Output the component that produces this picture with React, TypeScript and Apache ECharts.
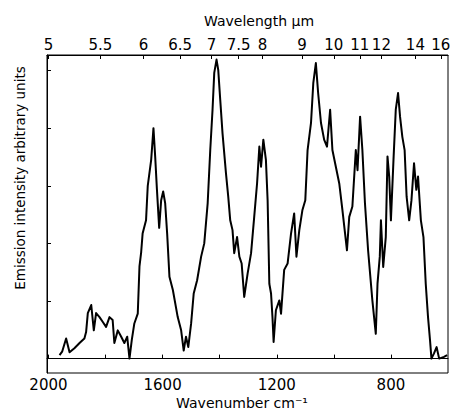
import React, { useEffect, useRef } from "react";
import * as echarts from "echarts";

// Emission spectrum (wavenumber in cm^-1, intensity in arbitrary units)
const wavenumbers = [
  1961, 1952, 1938, 1926, 1909, 1891, 1874, 1868, 1862, 1850, 1841, 1833, 1821, 1810, 1798, 1786,
  1775, 1769, 1757, 1745, 1734, 1724, 1716, 1708, 1699, 1687, 1681, 1675, 1670, 1658, 1652, 1640,
  1632, 1626, 1620, 1612, 1605, 1598, 1591, 1584, 1576, 1564, 1547, 1535, 1526, 1518, 1510, 1500,
  1491, 1479, 1465, 1454, 1442, 1433, 1425, 1419, 1411, 1405, 1398, 1390, 1378, 1370, 1363, 1355,
  1349, 1339, 1331, 1323, 1314, 1302, 1290, 1279, 1269, 1261, 1255, 1247, 1238, 1232, 1226, 1220,
  1215, 1211, 1203, 1191, 1185, 1174, 1162, 1150, 1139, 1131, 1121, 1110, 1100, 1092, 1080, 1072,
  1063, 1055, 1045, 1034, 1024, 1013, 1005, 993, 981, 970, 954, 946, 935, 923, 917, 908,
  900, 891, 880, 865, 859, 853, 847, 839, 835, 827, 818, 812, 806, 800, 791, 783,
  775, 768, 760, 752, 745, 736, 728, 719, 711, 705, 695, 686, 678, 670, 663, 658,
  649, 640, 631, 614, 603,
];
const intensities = [
  0.06, 0.12, 0.35, 0.11, 0.18, 0.27, 0.35, 0.46, 0.79, 0.93, 0.49, 0.79, 0.72, 0.64, 0.55, 0.72,
  0.67, 0.27, 0.49, 0.38, 0.27, 0.38, 0.0, 0.32, 0.61, 0.78, 1.6, 1.85, 2.17, 2.4, 3.0, 3.45,
  4.0, 3.51, 2.95, 2.27, 2.75, 2.9, 2.7, 2.17, 1.42, 1.19, 0.72, 0.49, 0.14, 0.38, 0.2, 0.61,
  1.13, 1.36, 1.77, 2.0, 2.7, 3.62, 4.32, 4.96, 5.19, 5.01, 4.49, 3.91, 3.22, 2.81, 2.4, 2.23,
  1.83, 2.11, 1.77, 1.65, 1.07, 1.48, 1.83, 2.46, 3.04, 3.68, 3.33, 3.8, 3.45, 2.75, 1.3, 1.13,
  0.72, 0.29, 0.84, 1.01, 0.78, 1.54, 1.65, 2.17, 2.52, 1.77, 2.23, 2.58, 2.75, 3.62, 4.09, 4.78,
  5.13, 4.61, 4.09, 3.8, 3.68, 4.32, 3.62, 3.33, 3.04, 2.58, 1.88, 2.46, 2.64, 3.62, 3.27, 4.2,
  3.62, 2.7, 1.88, 1.01, 0.72, 0.43, 1.3, 1.77, 2.4, 1.59, 2.11, 3.51, 3.16, 2.4, 3.45, 4.32,
  4.61, 4.2, 3.85, 3.62, 2.81, 2.4, 2.75, 3.39, 2.93, 3.16, 2.4, 2.11, 1.3, 0.72, 0.32, 0.0,
  0.09, 0.2, 0.0, 0.03, 0.06,
];

const wavelengthTicks = [5, 5.5, 6, 6.5, 7, 7.5, 8, 9, 10, 11, 12, 14, 16];
const wavenumberTicks = [800, 1000, 1200, 1400, 1600, 1800, 2000];
const wavenumberLabels = [800, 1200, 1600, 2000];
const intensityTicks = [0, 1, 2, 3, 4, 5];

const FONT = "DejaVu Sans";

export default function App() {
  const ref = useRef<HTMLDivElement>(null);
  useEffect(() => {
    if (!ref.current) return;
    const chart = echarts.init(ref.current, undefined, { renderer: "svg" });
    const data = wavenumbers.map((w, i) => [w, intensities[i]]);
    const wlValues = wavelengthTicks.map((l) => 10000 / l);
    chart.setOption({
      animation: false,
      backgroundColor: "#fff",
      grid: {
        left: 47,
        right: 3,
        top: 55,
        bottom: 39,
        containLabel: false,
        outerBoundsMode: "none",
        show: true,
        borderColor: "#000",
        borderWidth: 1,
        backgroundColor: "transparent",
      },
      xAxis: [
        {
          type: "value",
          position: "bottom",
          min: 600,
          max: 2005,
          inverse: true,
          splitLine: { show: false },
          axisLine: { show: true, lineStyle: { color: "#000", width: 1 } },
          axisTick: {
            show: true,
            inside: true,
            length: 4,
            customValues: wavenumberTicks,
            lineStyle: { color: "#000" },
          },
          axisLabel: {
            show: true,
            customValues: wavenumberLabels,
            margin: 4,
            color: "#000",
            fontFamily: FONT,
            fontSize: 15,
            formatter: (v: number) => String(v),
          },
        },
        {
          type: "value",
          position: "top",
          min: 600,
          max: 2005,
          inverse: true,
          splitLine: { show: false },
          axisLine: { show: true, lineStyle: { color: "#000", width: 1 } },
          axisTick: {
            show: true,
            inside: true,
            length: 4,
            customValues: wlValues,
            lineStyle: { color: "#000" },
          },
          axisLabel: {
            show: true,
            customValues: wlValues,
            margin: 3,
            color: "#000",
            fontFamily: FONT,
            fontSize: 15,
            hideOverlap: false,
            formatter: (v: number) => String(Math.round((10000 / v) * 10) / 10),
          },
        },
      ],
      yAxis: {
        type: "value",
        min: -0.25,
        max: 5.27,
        splitLine: { show: false },
        axisLine: { show: true, lineStyle: { color: "#000", width: 1 } },
        axisTick: {
          show: true,
          inside: true,
          length: 4,
          customValues: intensityTicks,
          lineStyle: { color: "#000" },
        },
        axisLabel: { show: false },
      },
      graphic: [
        {
          type: "text",
          x: 259,
          y: 21,
          style: {
            text: "Wavelength μm",
            font: `14px "${FONT}"`,
            fill: "#000",
            textAlign: "center",
            textVerticalAlign: "middle",
          },
        },
        {
          type: "text",
          x: 242,
          y: 403,
          style: {
            text: "Wavenumber cm⁻¹",
            font: `14px "${FONT}"`,
            fill: "#000",
            textAlign: "center",
            textVerticalAlign: "middle",
          },
        },
        {
          type: "text",
          x: 20,
          y: 178,
          rotation: Math.PI / 2,
          style: {
            text: "Emission intensity arbitrary units",
            font: `13.5px "${FONT}"`,
            fill: "#000",
            textAlign: "center",
            textVerticalAlign: "middle",
          },
        },
      ],
      series: [
        {
          type: "line",
          xAxisIndex: 0,
          yAxisIndex: 0,
          data,
          showSymbol: false,
          symbol: "none",
          smooth: false,
          lineStyle: { color: "#000", width: 2, join: "round" },
          silent: true,
        },
      ],
    });
    return () => chart.dispose();
  }, []);
  return (
    <div
      ref={ref}
      style={{ position: "fixed", left: 0, top: 0, width: 451, height: 412, background: "#fff" }}
    />
  );
}
